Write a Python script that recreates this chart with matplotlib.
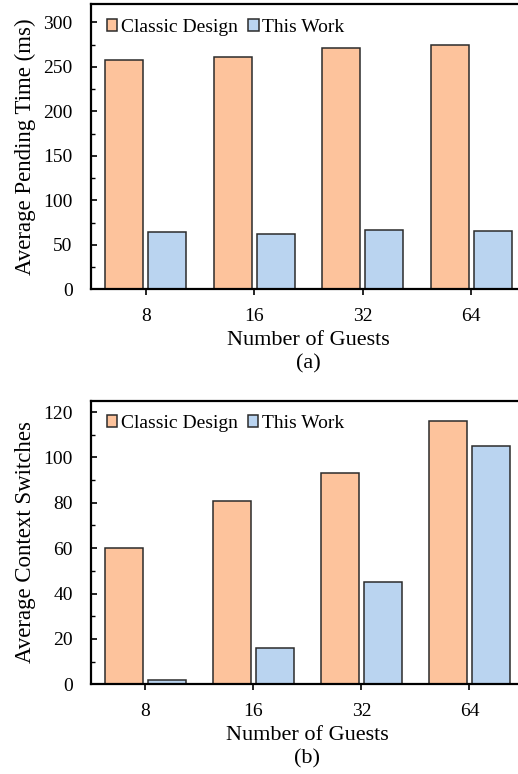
import matplotlib
matplotlib.use('Agg')
import matplotlib.pyplot as plt
import numpy as np

# data
guests = ['8', '16', '32', '64']
pending_classic = [258, 261, 271, 274]
pending_this = [64, 62, 67, 65]
switch_classic = [60, 81, 93, 116]
switch_this = [2, 16, 45, 105]

plt.rcParams['font.family'] = ['Liberation Serif', 'DejaVu Serif']

c_classic = '#FDC39C'
c_this = '#BAD4F0'
edge = '#2b2b2b'

fig = plt.figure(figsize=(5.18, 7.74), dpi=100)
ax1 = fig.add_axes([0.1766, 0.6262, 0.838, 0.368])
ax2 = fig.add_axes([0.1766, 0.1159, 0.834, 0.3664])

x = np.arange(len(guests))
w = 0.35
off = 0.2


def draw(ax, a, b, ylabel, ymax, step, tag):
    ax.bar(x - off, a, w, color=c_classic, edgecolor=edge, linewidth=1.1, label='Classic Design')
    ax.bar(x + off, b, w, color=c_this, edgecolor=edge, linewidth=1.1, label='This Work')
    ax.set_xlim(-0.5, 3.5)
    ax.set_ylim(0, ymax)
    ax.set_xticks(x)
    ax.set_xticklabels(guests)
    ax.set_yticks(np.arange(0, ymax, step))
    ax.set_yticks(np.arange(step / 2, ymax, step), minor=True)
    ax.tick_params(axis='y', which='major', direction='in', length=4, width=1.2, labelsize=14, pad=13.5)
    ax.tick_params(axis='y', which='minor', direction='in', length=3, width=1.0)
    ax.tick_params(axis='x', direction='out', length=4, width=1.2, labelsize=14, pad=9.5)
    for s in ax.spines.values():
        s.set_linewidth(1.6)
    ax.set_ylabel(ylabel, fontsize=16.5, labelpad=5)
    ax.set_xlabel('Number of Guests\n' + tag, fontsize=16, linespacing=1.3, labelpad=4)
    ax.legend(loc='upper left', bbox_to_anchor=(0.035, 0.95), ncol=2, frameon=False,
              fontsize=14, borderpad=0, borderaxespad=0, handlelength=0.55,
              handleheight=0.55, handletextpad=0.2, columnspacing=0.5)


draw(ax1, pending_classic, pending_this, 'Average Pending Time (ms)', 320, 50, '(a)')
draw(ax2, switch_classic, switch_this, 'Average Context Switches', 125, 20, '(b)')
ax1.set_yticks(np.arange(0, 301, 50))
ax1.set_yticks(np.arange(25, 320, 50), minor=True)

fig.savefig('out.png', dpi=100)
